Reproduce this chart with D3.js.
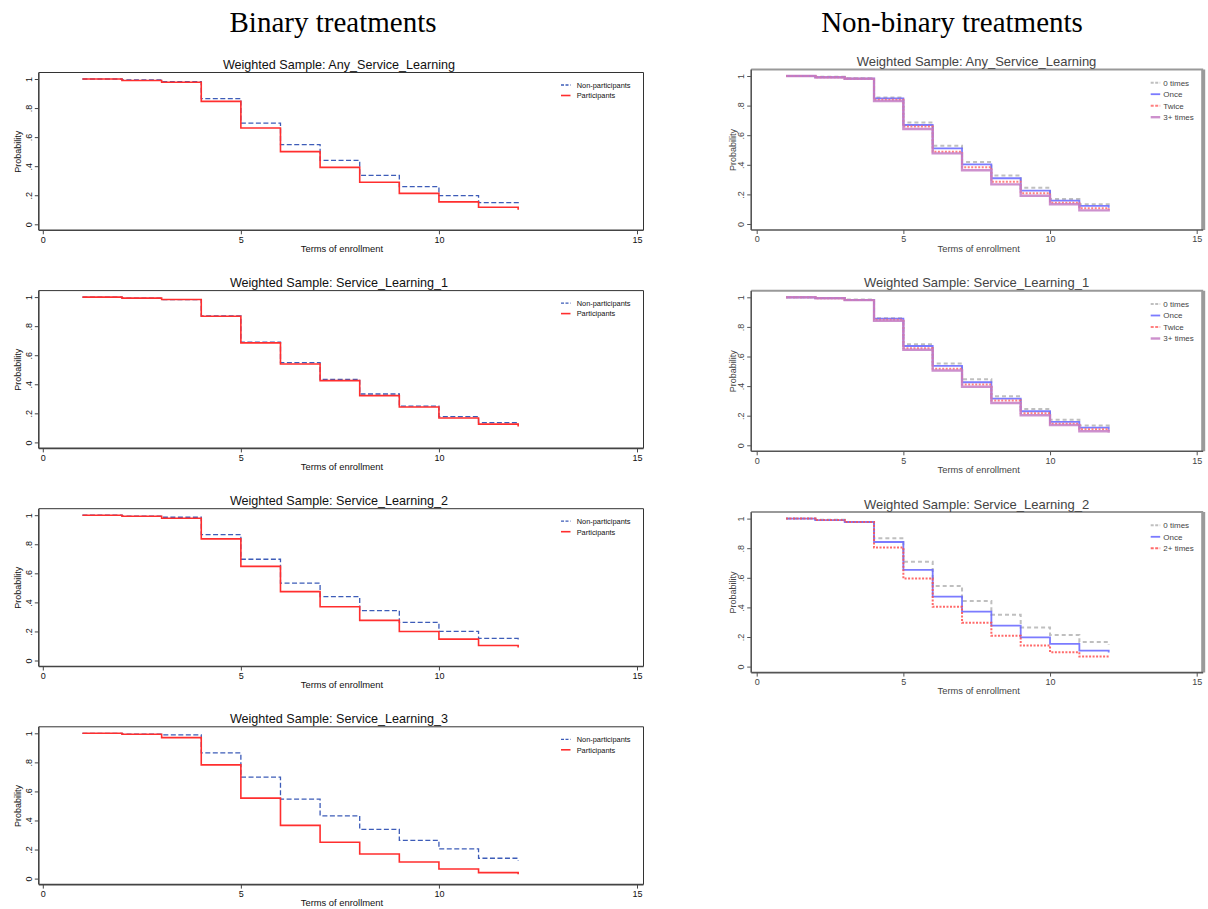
<!DOCTYPE html>
<html>
<head>
<meta charset="utf-8">
<script src="https://cdn.jsdelivr.net/npm/d3@7"></script>
<style>
  body { margin: 0; background: #fff; }
  svg { display: block; }
</style>
</head>
<body>
<svg id="chart" width="1208" height="909"></svg>
<script>
// terms of enrollment (step starts)
const terms = [1, 2, 3, 4, 5, 6, 7, 8, 9, 10, 11, 12];
const xTicks = [0, 5, 10, 15];
const yTicks = [0, 0.2, 0.4, 0.6, 0.8, 1];
const yTickLabels = ['0', '.2', '.4', '.6', '.8', '1'];

const binaryGroups = ['Non-participants', 'Participants'];
const anyGroups = ['0 times', 'Once', 'Twice', '3+ times'];
const sl2Groups = ['0 times', 'Once', '2+ times'];

// Binary treatments
const anyNon = [1, 0.993, 0.982, 0.865, 0.697, 0.548, 0.44, 0.337, 0.259, 0.197, 0.149, 0.13];
const anyPart = [1, 0.99, 0.978, 0.846, 0.663, 0.50, 0.392, 0.289, 0.213, 0.154, 0.117, 0.10];
const sl1Non = [1, 0.993, 0.983, 0.871, 0.69, 0.549, 0.434, 0.333, 0.25, 0.177, 0.136, 0.12];
const sl1Part = [1, 0.993, 0.983, 0.868, 0.685, 0.54, 0.425, 0.322, 0.244, 0.168, 0.126, 0.11];
const sl2Non = [1, 0.994, 0.986, 0.867, 0.697, 0.533, 0.439, 0.343, 0.262, 0.2, 0.152, 0.13];
const sl2Part = [1, 0.993, 0.979, 0.837, 0.648, 0.474, 0.37, 0.276, 0.2, 0.147, 0.103, 0.09];
const sl3Non = [1, 0.994, 0.989, 0.865, 0.698, 0.547, 0.432, 0.339, 0.263, 0.204, 0.14, 0.125];
const sl3Part = [1, 0.993, 0.97, 0.783, 0.554, 0.366, 0.25, 0.169, 0.114, 0.066, 0.041, 0.03];

// Non-binary treatments
const any0 = [1, 0.995, 0.984, 0.854, 0.685, 0.529, 0.419, 0.327, 0.245, 0.169, 0.133, 0.12];
const any1 = [1, 0.992, 0.982, 0.849, 0.669, 0.511, 0.403, 0.309, 0.225, 0.158, 0.122, 0.11];
const any2 = [1, 0.991, 0.982, 0.84, 0.658, 0.489, 0.383, 0.286, 0.207, 0.144, 0.106, 0.095];
const any3 = [1, 0.99, 0.981, 0.831, 0.642, 0.477, 0.363, 0.268, 0.191, 0.133, 0.092, 0.085];
const sl1n0 = [1, 0.995, 0.985, 0.858, 0.682, 0.552, 0.446, 0.331, 0.245, 0.173, 0.133, 0.12];
const sl1n1 = [1, 0.995, 0.983, 0.856, 0.671, 0.536, 0.426, 0.315, 0.23, 0.158, 0.119, 0.105];
const sl1n2 = [1, 0.994, 0.982, 0.849, 0.655, 0.518, 0.41, 0.302, 0.216, 0.146, 0.108, 0.095];
const sl1n3 = [1, 0.994, 0.981, 0.842, 0.646, 0.505, 0.396, 0.286, 0.203, 0.137, 0.095, 0.085];
const sl2n0 = [1, 0.993, 0.977, 0.867, 0.709, 0.545, 0.444, 0.351, 0.264, 0.214, 0.167, 0.15];
const sl2n1 = [1, 0.99, 0.977, 0.842, 0.653, 0.473, 0.372, 0.277, 0.198, 0.153, 0.108, 0.095];
const sl2n2 = [1, 0.99, 0.977, 0.804, 0.595, 0.405, 0.297, 0.209, 0.142, 0.097, 0.068, 0.06];

const svg = d3.select('#chart');
const sans = 'Arial, "Liberation Sans", sans-serif';

// line styles
const binaryStyles = [
  { stroke: '#3d5cb8', width: 1.3, dash: '5,2.5' },
  { stroke: '#ff2e2e', width: 1.6, dash: null }
];
const multiStyles = {
  '0 times': { stroke: '#b4b4b4', width: 2, dash: '4,3' },
  'Once': { stroke: '#6464ff', width: 1.8, dash: null },
  'Twice': { stroke: '#ff6a6a', width: 2, dash: '2,1.5' },
  '2+ times': { stroke: '#ff5050', width: 2, dash: '2,1.5' },
  '3+ times': { stroke: '#c47cc4', width: 2.4, dash: null }
};

// headers
svg.append('text').attr('x', 333).attr('y', 32).attr('text-anchor', 'middle')
  .style('font-family', '"Liberation Serif", "Times New Roman", serif').style('font-size', '29px')
  .text('Binary treatments');
svg.append('text').attr('x', 952).attr('y', 32).attr('text-anchor', 'middle')
  .style('font-family', '"Liberation Serif", "Times New Roman", serif').style('font-size', '29px')
  .text('Non-binary treatments');

function drawPanel(p) {
  const x = d3.scaleLinear().domain([0, 15]).range([p.x0, p.x1]);
  const y = d3.scaleLinear().domain([0, 1]).range([p.top + p.h, p.top]);
  const g = svg.append('g');
  const fl = p.x0 - p.padL, fr = p.x1 + p.padR;
  const ft = p.top - 6.5, fb = p.top + p.h + 6;

  // frame
  g.append('line').attr('x1', fl).attr('x2', fr).attr('y1', ft).attr('y2', ft)
    .attr('stroke', p.frameTop).attr('stroke-width', p.frameTopW);
  g.append('line').attr('x1', fr).attr('x2', fr).attr('y1', ft).attr('y2', fb)
    .attr('stroke', p.frameRight).attr('stroke-width', p.frameRightW);

  // axes
  const yAxis = d3.axisLeft(y).tickValues(yTicks).tickSize(4)
    .tickFormat((d, i) => yTickLabels[i]);
  const ya = g.append('g').attr('transform', `translate(${fl},0)`).call(yAxis);
  ya.select('.domain').attr('d', `M0,${ft}V${fb}`).attr('stroke', p.axisColor).attr('stroke-width', 1.6);
  ya.selectAll('.tick line').attr('stroke', p.axisColor);
  ya.selectAll('.tick text')
    .attr('x', null).attr('dy', null)
    .attr('transform', 'translate(-7,0) rotate(-90)')
    .attr('text-anchor', 'middle')
    .attr('fill', p.textColor)
    .style('font-family', sans).style('font-size', '9px');

  const xAxis = d3.axisBottom(x).tickValues(xTicks).tickSize(4);
  const xa = g.append('g').attr('transform', `translate(0,${fb})`).call(xAxis);
  xa.select('.domain').attr('d', `M${fl},0H${fr}`).attr('stroke', p.axisColor).attr('stroke-width', 1.6);
  xa.selectAll('.tick line').attr('stroke', p.axisColor);
  xa.selectAll('.tick text').attr('y', 6).attr('fill', p.textColor)
    .style('font-family', sans).style('font-size', '9px');

  // title and axis titles
  g.append('text').attr('x', p.titleX).attr('y', p.top - 10)
    .attr('text-anchor', 'middle').attr('fill', p.textColor)
    .style('font-family', sans).style('font-size', p.titleSize + 'px')
    .text(p.title);
  g.append('text').attr('x', (p.x0 + p.x1) / 2 + 2).attr('y', fb + 21.5)
    .attr('text-anchor', 'middle').attr('fill', p.textColor)
    .style('font-family', sans).style('font-size', '9.4px')
    .text('Terms of enrollment');
  g.append('text')
    .attr('transform', `translate(${p.probX},${p.top + p.h / 2}) rotate(-90)`)
    .attr('text-anchor', 'middle').attr('fill', p.textColor)
    .style('font-family', sans).style('font-size', '9px')
    .text('Probability');

  // curves
  const line = d3.line().x(d => x(d.t)).y(d => y(d.v)).curve(d3.curveStepAfter);
  p.series.forEach((s, k) => {
    const st = p.styles[k];
    g.append('path')
      .datum(terms.map((t, i) => ({ t: t, v: s[i] })))
      .attr('d', line)
      .attr('fill', 'none')
      .attr('stroke', st.stroke)
      .attr('stroke-width', st.width)
      .attr('stroke-dasharray', st.dash)
      .attr('stroke-opacity', p.opacity);
  });

  // legend
  p.groups.forEach((name, k) => {
    const st = p.styles[k];
    const ly = p.top + p.legDy + k * p.legStep;
    g.append('line').attr('x1', p.legX).attr('x2', p.legX + 9.5).attr('y1', ly).attr('y2', ly)
      .attr('stroke', st.stroke).attr('stroke-width', st.width)
      .attr('stroke-dasharray', st.dash ? '3,1.5' : null)
      .attr('stroke-opacity', p.opacity);
    g.append('text').attr('x', p.legX + p.legTextDx).attr('y', ly + 2.8).attr('fill', p.textColor)
      .style('font-family', sans).style('font-size', p.legSize + 'px')
      .text(name);
  });
}

const leftTitles = ['Weighted Sample: Any_Service_Learning', 'Weighted Sample: Service_Learning_1',
  'Weighted Sample: Service_Learning_2', 'Weighted Sample: Service_Learning_3'];
const leftSeries = [[anyNon, anyPart], [sl1Non, sl1Part], [sl2Non, sl2Part], [sl3Non, sl3Part]];
leftSeries.forEach((series, i) => {
  drawPanel({
    x0: 42.8, x1: 637, padL: 4, padR: 6.5,
    top: 79 + i * 218.1, h: 145.3,
    title: leftTitles[i], titleX: 339, titleSize: 12.6,
    probX: 20.5, textColor: '#111', axisColor: '#444',
    frameTop: '#333', frameTopW: 1, frameRight: '#333', frameRightW: 1,
    series: series, groups: binaryGroups, styles: binaryStyles, opacity: 1,
    legX: 561, legTextDx: 15.7, legDy: 6, legStep: 10.5, legSize: 7.4
  });
});

const rightTitles = ['Weighted Sample: Any_Service_Learning', 'Weighted Sample: Service_Learning_1',
  'Weighted Sample: Service_Learning_2'];
const rightSeries = [[any0, any1, any2, any3], [sl1n0, sl1n1, sl1n2, sl1n3], [sl2n0, sl2n1, sl2n2]];
const rightGroups = [anyGroups, anyGroups, sl2Groups];
rightSeries.forEach((series, i) => {
  drawPanel({
    x0: 756.7, x1: 1196.7, padL: 5.5, padR: 6.5,
    top: 76 + i * 221.3, h: 148,
    title: rightTitles[i], titleX: 976.5, titleSize: 13,
    probX: 736, textColor: '#444', axisColor: '#555',
    frameTop: '#999', frameTopW: 2, frameRight: '#9a9a9a', frameRightW: 4,
    series: series, groups: rightGroups[i], styles: rightGroups[i].map(n => multiStyles[n]), opacity: 0.85,
    legX: 1150.7, legTextDx: 12.6, legDy: 6.7, legStep: 11.5, legSize: 8
  });
});
</script>
</body>
</html>
